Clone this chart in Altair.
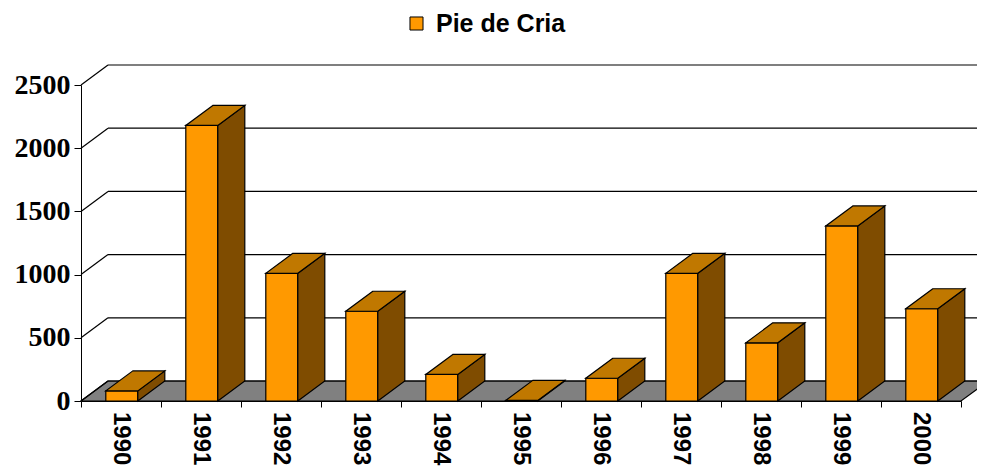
import altair as alt
import pandas as pd

# ---- data ----
years = ["1990", "1991", "1992", "1993", "1994", "1995", "1996", "1997", "1998", "1999", "2000"]
values = [80, 2180, 1010, 710, 210, 5, 180, 1010, 460, 1385, 730]
series_name = "Pie de Cria"
y_ticks = [0, 500, 1000, 1500, 2000, 2500]

# ---- styling / geometry constants ----
Y_MAX = 2500
PLOT_W = 880
PLOT_H = 316
N = len(years)
DEPTH_X = 27 / (PLOT_W / N)          # depth in category units
DEPTH_Y = 20 * Y_MAX / PLOT_H        # depth in value units
FRONT_L, FRONT_R = 0.31, 0.71
C_FRONT, C_TOP, C_SIDE, C_FLOOR = "#FF9900", "#C07800", "#7F4C00", "#808080"

x_scale = alt.Scale(domain=[0, N], nice=False, zero=False)
y_scale = alt.Scale(domain=[0, Y_MAX], nice=False)

x_axis = alt.Axis(values=list(range(N + 1)), labels=False, ticks=True, tickSize=6,
                  tickColor="black", domainColor="black", grid=False, title=None)
y_axis = alt.Axis(values=y_ticks, format="d", tickSize=7, tickColor="black",
                  domainColor="black", grid=False, labelFont="Liberation Serif",
                  labelFontWeight="bold", labelFontSize=28, labelColor="black",
                  labelPadding=4, title=None)


def X(field, **kw):
    return alt.X(field, scale=x_scale, axis=x_axis, title=None, **kw)


def Y(field, **kw):
    return alt.Y(field, scale=y_scale, axis=y_axis, title=None, **kw)


# ---- tables built from the lists ----
bars = pd.DataFrame({
    "year": years,
    "value": values,
    "series": series_name,
    "x0": [i + FRONT_L for i in range(N)],
    "x1": [i + FRONT_R for i in range(N)],
    "xc": [i + 0.5 for i in range(N)],
    "base": 0,
})

side_rows, top_rows = [], []
for i, (yr, v) in enumerate(zip(years, values)):
    side_rows.append({"year": yr, "x": i + FRONT_R, "y": v, "y2": 0})
    side_rows.append({"year": yr, "x": i + FRONT_R + DEPTH_X, "y": v + DEPTH_Y, "y2": DEPTH_Y})
    top_rows.append({"year": yr, "y": v, "x": i + FRONT_L, "x2": i + FRONT_R})
    top_rows.append({"year": yr, "y": v + DEPTH_Y, "x": i + FRONT_L + DEPTH_X, "x2": i + FRONT_R + DEPTH_X})
side = pd.DataFrame(side_rows)
top = pd.DataFrame(top_rows)

floor = pd.DataFrame({"y": [0, DEPTH_Y], "x": [0, DEPTH_X], "x2": [N, N + DEPTH_X]})
grid = pd.DataFrame({
    "v": y_ticks,
    "xa": 0.0, "xb": DEPTH_X, "xe": N + DEPTH_X,
    "ya": y_ticks,
    "yb": [t + DEPTH_Y for t in y_ticks],
})

# ---- layers ----
floor_layer = alt.Chart(floor).mark_area(
    orient="horizontal", fill=C_FLOOR, stroke="black", strokeWidth=1.2
).encode(
    y=Y("y:Q", stack=None),
    x=X("x:Q", stack=None),
    x2="x2:Q",
)

back_grid = alt.Chart(grid).mark_rule(color="black", strokeWidth=1.2).encode(
    x=X("xb:Q"),
    x2="xe:Q",
    y=Y("yb:Q"),
)

side_wall = alt.Chart(grid).mark_rule(color="black", strokeWidth=1.2).encode(
    x=X("xa:Q"),
    x2="xb:Q",
    y=Y("ya:Q"),
    y2="yb:Q",
)

front = alt.Chart(bars).mark_rect(stroke="black", strokeWidth=1.2).encode(
    x=X("x0:Q"),
    x2="x1:Q",
    y=Y("value:Q"),
    y2="base:Q",
    color=alt.Color("series:N", scale=alt.Scale(domain=[series_name], range=[C_FRONT]),
                    legend=alt.Legend(
                        title=None, orient="none", legendX=323, legendY=-74,
                        symbolType="square", symbolSize=170,
                        symbolStrokeColor="black", symbolStrokeWidth=1,
                        labelFont="Liberation Sans", labelFontWeight="bold",
                        labelFontSize=25, labelColor="black", labelOffset=7,
                        padding=0)),
)

side_layer = alt.Chart(side).mark_area(
    orient="vertical", fill=C_SIDE, stroke="black", strokeWidth=1.2
).encode(
    x=X("x:Q"),
    y=Y("y:Q", stack=None),
    y2="y2:Q",
    detail="year:N",
)

top_layer = alt.Chart(top).mark_area(
    orient="horizontal", fill=C_TOP, stroke="black", strokeWidth=1.2
).encode(
    y=Y("y:Q"),
    x=X("x:Q", stack=None),
    x2="x2:Q",
    detail="year:N",
)

labels = alt.Chart(bars).mark_text(
    angle=90, align="left", baseline="middle", dx=11,
    font="Liberation Sans", fontWeight="bold", fontSize=24, color="black"
).encode(
    x=X("xc:Q"),
    y=Y("base:Q"),
    text="year:N",
)

chart = alt.layer(
    floor_layer, back_grid, side_wall, front, side_layer, top_layer, labels
).properties(
    width=PLOT_W, height=PLOT_H,
    background="white",
    autosize=alt.AutoSizeParams(type="none"),
    padding={"left": 73, "top": 77, "right": 16, "bottom": 66},
).configure_view(stroke=None)

chart.save("out.html", embed_options={"renderer": "svg", "actions": False})
